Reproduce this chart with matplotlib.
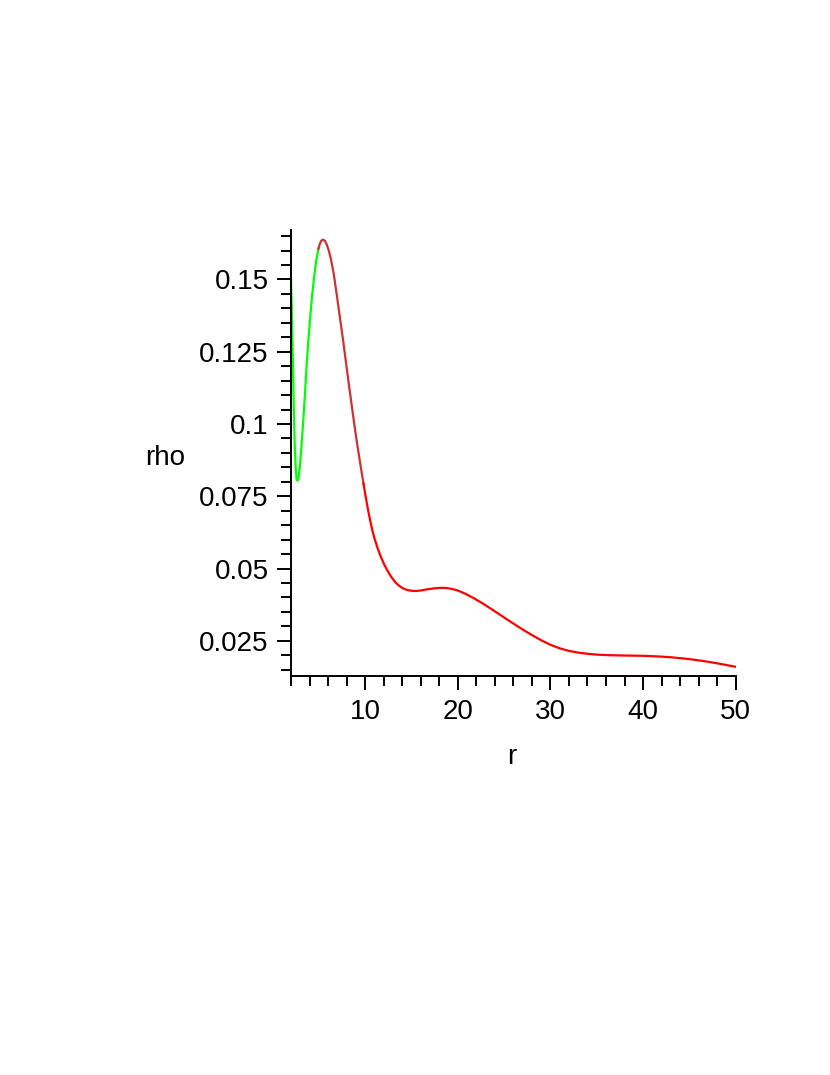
import matplotlib
matplotlib.use("Agg")
import matplotlib.pyplot as plt
from matplotlib.ticker import FixedLocator, FixedFormatter

# green part: r from 2 to the rising edge just before the peak
r_green = [2.00, 2.10, 2.20, 2.30, 2.40, 2.50, 2.60, 2.70, 2.80, 2.95, 3.10,
           3.30, 3.50, 3.70, 3.90, 4.10, 4.30, 4.50, 4.70, 4.96]
rho_green = [0.150, 0.138, 0.122, 0.106, 0.093, 0.085, 0.081, 0.0804, 0.0812,
             0.085, 0.091, 0.100, 0.110, 0.121, 0.130, 0.138, 0.145, 0.151,
             0.156, 0.1606]

# brownish-red part: over the peak and down the steep side
r_brown = [4.96, 5.10, 5.25, 5.45, 5.65, 5.85, 6.05, 6.30, 6.60, 6.95, 7.30,
           7.65, 8.00, 8.35, 8.70, 9.05, 9.45, 9.83]
rho_brown = [0.1606, 0.1622, 0.1633, 0.1638, 0.1634, 0.1622, 0.1603, 0.1572,
             0.1522, 0.1445, 0.1364, 0.1283, 0.1197, 0.1112, 0.1030, 0.0950,
             0.0868, 0.0793]

# red tail out to r = 50
r_red = [9.83, 10.0, 10.2, 10.4, 10.6, 10.8, 11.0, 11.3, 11.64, 12.0, 12.4,
         12.8, 13.2, 13.6, 14.0, 14.5, 15.0, 15.5, 16.0, 16.7, 17.4, 18.0,
         18.6, 19.3, 20.0, 20.8, 21.7, 22.8, 24.0, 25.5, 27.0, 28.0, 29.0,
         30.0, 31.0, 32.0, 33.0, 34.0, 35.0, 36.5, 38.0, 40.0, 41.5, 43.0,
         44.9, 46.5, 48.0, 50.0]
rho_red = [0.0793, 0.0760, 0.0723, 0.0689, 0.0658, 0.0630, 0.0605, 0.0575,
           0.0545, 0.0518, 0.0493, 0.0472, 0.0455, 0.0442, 0.0433, 0.0426,
           0.0423, 0.0422, 0.0424, 0.0428, 0.0431, 0.0433, 0.0433, 0.0430,
           0.0424, 0.0413, 0.0398, 0.0377, 0.0352, 0.0320, 0.0289, 0.0270,
           0.0252, 0.0236, 0.0224, 0.0215, 0.0209, 0.0205, 0.0202, 0.0200,
           0.0199, 0.0198, 0.0196, 0.0193, 0.0187, 0.0180, 0.0172, 0.0160]

x_major = [10, 20, 30, 40, 50]
x_minor = [2, 4, 6, 8, 12, 14, 16, 18, 22, 24, 26, 28, 32, 34, 36, 38,
           42, 44, 46, 48]
y_major = [0.025, 0.05, 0.075, 0.1, 0.125, 0.15]
y_major_labels = ["0.025", "0.05", "0.075", "0.1", "0.125", "0.15"]
y_minor = [0.015, 0.02, 0.03, 0.035, 0.04, 0.045, 0.055, 0.06, 0.065, 0.07,
           0.08, 0.085, 0.09, 0.095, 0.105, 0.11, 0.115, 0.12, 0.13, 0.135,
           0.14, 0.145, 0.155, 0.16, 0.165]

plt.rcParams["font.family"] = ["Liberation Sans", "DejaVu Sans"]

fig = plt.figure(figsize=(8.3, 10.75), dpi=100)
ax = fig.add_axes([0.3506, 0.3714, 0.5358, 0.4146])

ax.plot(r_green, rho_green, color="#00ff00", lw=1.6)
ax.plot(r_brown, rho_brown, color="#cc3333", lw=1.6)
ax.plot(r_red, rho_red, color="#ff0000", lw=1.6)

ax.set_xlim(2, 50)
ax.set_ylim(0.0129, 0.1671)

for s in ("top", "right"):
    ax.spines[s].set_visible(False)
for s in ("left", "bottom"):
    ax.spines[s].set_linewidth(1.4)

ax.xaxis.set_major_locator(FixedLocator(x_major))
ax.xaxis.set_minor_locator(FixedLocator(x_minor))
ax.yaxis.set_major_locator(FixedLocator(y_major))
ax.yaxis.set_major_formatter(FixedFormatter(y_major_labels))
ax.yaxis.set_minor_locator(FixedLocator(y_minor))

ax.tick_params(which="major", length=10, width=1.4, labelsize=20, direction="out")
ax.tick_params(which="minor", length=7, width=1.4, direction="out")
ax.tick_params(axis="x", which="major", pad=7)
ax.tick_params(axis="y", which="major", pad=6)

ax.set_xlabel("r", fontsize=20, va="center")
ax.xaxis.set_label_coords(0.497, -0.182)
ax.set_ylabel("rho", fontsize=20, rotation=0, ha="center", va="center")
ax.yaxis.set_label_coords(-0.283, 0.488)

fig.savefig("out.png", dpi=100)
plt.close(fig)
